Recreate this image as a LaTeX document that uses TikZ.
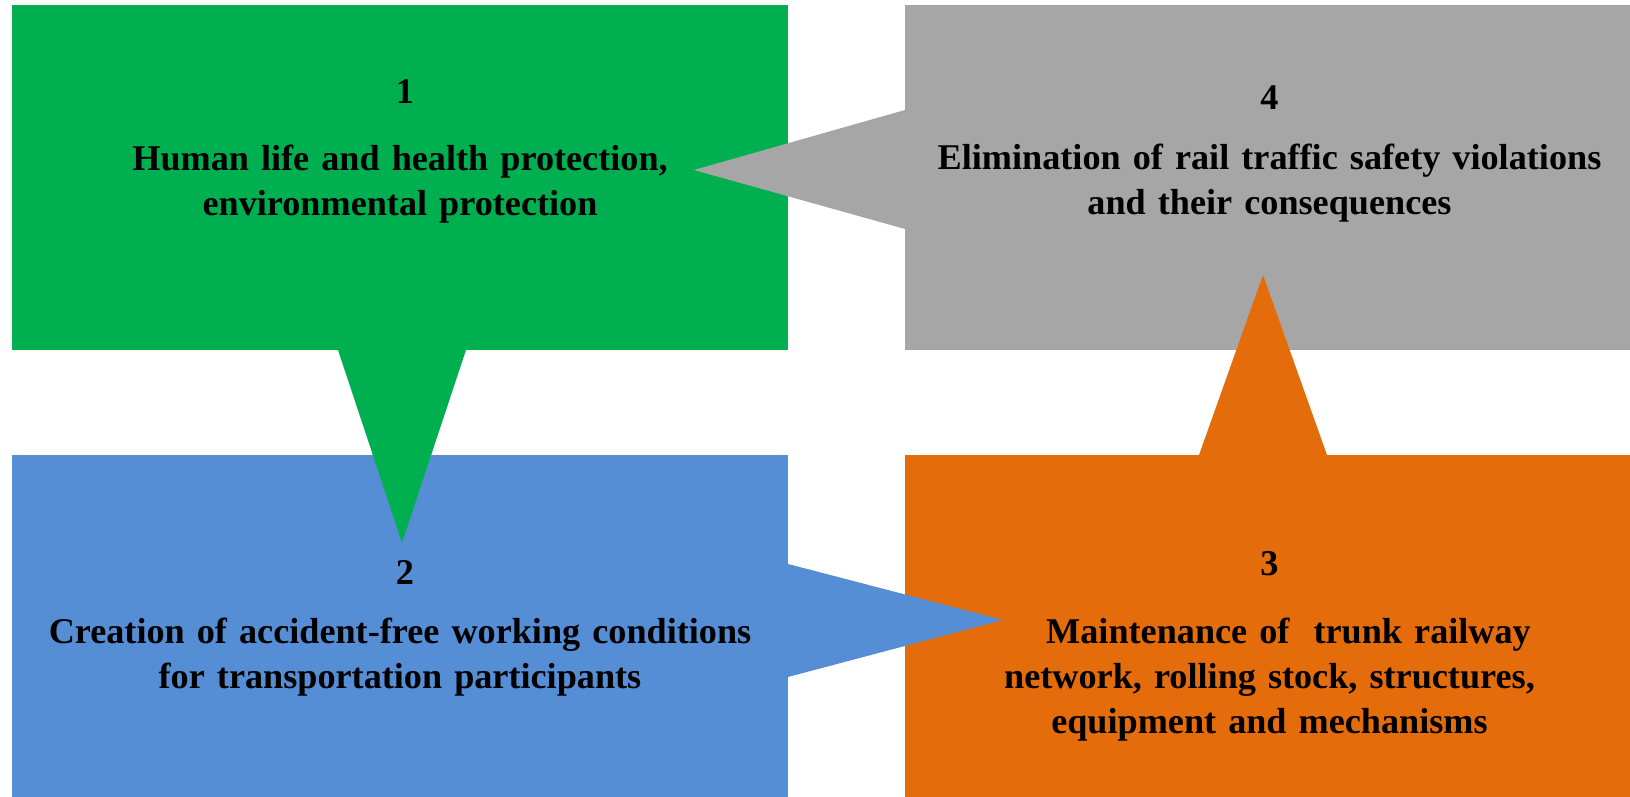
\documentclass[tikz,border=0pt]{standalone}
\usepackage{fontspec}
\setmainfont{Liberation Serif}
\usetikzlibrary{calc,positioning}

\definecolor{vert}{HTML}{00B050}
\definecolor{gris}{HTML}{A6A6A6}
\definecolor{bleu}{HTML}{558ED5}
\definecolor{orange}{HTML}{E46C0A}

\begin{document}
\begin{tikzpicture}[
    bloc/.style={inner sep=0pt, outer sep=0pt},
    numero/.style={font=\bfseries\fontsize{10.3}{12.8}\selectfont, inner sep=0pt, anchor=base},
    texte/.style={numero, align=center}
]
\useasboundingbox (0,0) rectangle (16.30,7.97);

% 1. Les quatre blocs de couleur
\node[bloc, fill=vert, minimum width=7.76cm, minimum height=3.45cm] (sante) at (4.00,6.195) {};
\node[bloc, fill=gris, minimum width=7.25cm, minimum height=3.45cm] (securite) at (12.675,6.195) {};
\node[bloc, fill=bleu, minimum width=7.76cm, minimum height=3.42cm] (accident) at (4.00,1.71) {};
\node[bloc, fill=orange, minimum width=7.25cm, minimum height=3.42cm] (entretien) at (12.675,1.71) {};

% 2. Les pointes (bloc -> bloc suivant)
\coordinate (p12) at ($(accident.north)+(0.02,-0.88)$);
\coordinate (p23) at ($(entretien.west)+(0.98,0.06)$);
\coordinate (p34) at ($(securite.south)+(-0.045,0.75)$);
\coordinate (p41) at ($(sante.east)+(-0.94,0.075)$);

\fill[vert] ($(sante.south)+(-0.62,0)$) -- ($(sante.south)+(0.66,0)$) -- (p12) -- cycle;
\fill[bleu] ($(accident.east)+(0,0.62)$) -- ($(accident.east)+(0,-0.51)$) -- (p23) -- cycle;
\fill[orange] ($(entretien.north)+(-0.685,0)$) -- ($(entretien.north)+(0.595,0)$) -- (p34) -- cycle;
\fill[gris] ($(securite.west)+(0,0.675)$) -- ($(securite.west)+(0,-0.515)$) -- (p41) -- cycle;

% 3. Les numeros
\node[numero] (n1) at ($(sante.north)+(0.05,-0.99)$) {1};
\node[numero] (n4) at ($(securite.north)+(0.02,-1.05)$) {4};
\node[numero] (n2) at ($(accident.north)+(0.05,-1.30)$) {2};
\node[numero] (n3) at ($(entretien.north)+(0.02,-1.21)$) {3};

% 4. Les textes
\node[texte, text width=7.76cm] (t1) at ($(sante.north)+(0,-1.66)$)
    {Human life and health protection,\\ environmental protection};
\node[texte, text width=7.25cm] (t4) at ($(securite.north)+(0.02,-1.65)$)
    {Elimination of rail traffic safety violations\\ and their consequences};
\node[texte, text width=7.76cm] (t2) at ($(accident.north)+(0,-1.89)$)
    {Creation of accident-free working conditions\\ for transportation participants};
\node[texte, text width=7.25cm] (t3) at ($(entretien.north)+(0.02,-1.89)$)
    {\hspace*{0.38cm}Maintenance of\ \ trunk railway\\ network, rolling stock, structures,\\ equipment and mechanisms};
\end{tikzpicture}
\end{document}
